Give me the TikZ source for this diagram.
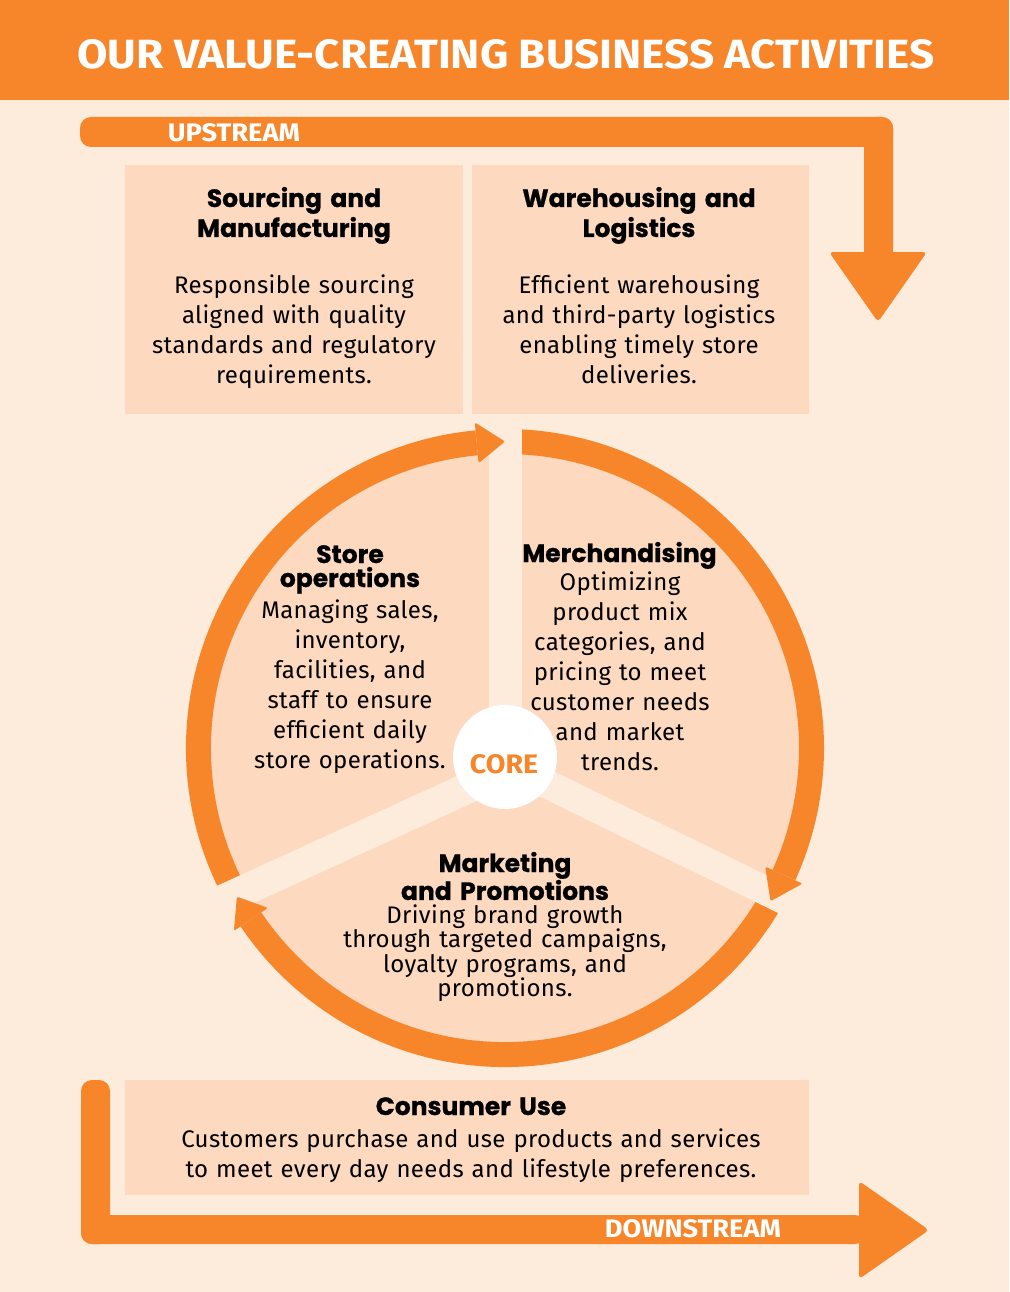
\documentclass[tikz,border=0pt]{standalone}
\usepackage{fontspec}
\setmainfont{Fira Sans}[LetterSpace=1.5]
\newfontfamily\headfont{Poppins}[BoldFeatures={FakeBold=0.8}]
\newfontfamily\bandfont{Fira Sans}
\usetikzlibrary{calc}
\definecolor{orng}{HTML}{F7862B}
\definecolor{bgc}{HTML}{FDEBDC}
\definecolor{boxc}{HTML}{FDD9BF}
\tikzset{
  bodytext/.style={text width=560pt, align=center, anchor=base, inner sep=0pt, text=black,
    font=\fontsize{24}{30}\selectfont},
  headtext/.style={text width=560pt, align=center, anchor=base, inner sep=0pt, text=black,
    font=\headfont\bfseries\fontsize{25}{30}\selectfont},
  panel/.style={fill=boxc},
  bandtext/.style={inner sep=0pt, text=white, font=\bandfont\bfseries},
  ringarc/.style={draw=orng, line width=25pt},
  gap/.style={draw=bgc},
}
\begin{document}
\begin{tikzpicture}[x=1pt,y=1pt]
\useasboundingbox (0,0) rectangle (1009,-1292);
% background and title bar
\fill[bgc] (0,0) rectangle (1009,-1292);
\fill[orng] (0,0) rectangle (1009,-100);
\node[bandtext] (title) at (506,-54.5) {\resizebox{857pt}{29pt}{OUR VALUE-CREATING BUSINESS ACTIVITIES}};

% upper panels
\fill[panel] (125,-165) rectangle (463,-414);
\fill[panel] (472,-165) rectangle (809,-414);
% consumer panel
\fill[panel] (125,-1080) rectangle (809,-1195);

% upstream arrow
\fill[orng, rounded corners=11] (80,-117) rectangle (893,-147);
\fill[orng, rounded corners=11] (864,-117) rectangle (893,-262);
\fill[orng, rounded corners=4] (829,-252) -- (927,-252) -- (878,-322) -- cycle;
\node[bandtext] (up) at (234,-133) {\resizebox{132pt}{18pt}{UPSTREAM}};

% downstream arrow
\fill[orng, rounded corners=11] (81,-1080) rectangle (110,-1244);
\fill[orng, rounded corners=11] (81,-1215) rectangle (866,-1244);
\fill[orng, rounded corners=4] (859,-1181) -- (929,-1230) -- (859,-1279) -- cycle;
\node[bandtext] (down) at (693,-1229) {\resizebox{176pt}{18pt}{DOWNSTREAM}};

% circle
\coordinate (C) at (505,-748);
\begin{scope}[shift={(C)}]
  \fill[boxc] (0,0) circle[radius=300];
  \draw[ringarc] (211:306.5) arc[start angle=211, end angle=95.3, radius=306.5];
  \draw[ringarc] (92:306.5) arc[start angle=92, end angle=-24.5, radius=306.5];
  \draw[ringarc] (-27:306.5) arc[start angle=-27, end angle=-146, radius=306.5];
\end{scope}
% separating gaps
\coordinate (g0) at (505,-775);
\coordinate (g1) at (505,-419);
\coordinate (g2) at (505,-771);
\coordinate (g3) at (198,-911.6);
\coordinate (g4) at (505,-763.6);
\coordinate (g5) at (812,-913.4);
\draw[gap, line width=33pt] (g0) -- (g1);
\draw[gap, line width=31pt] (g2) -- (g3);
\draw[gap, line width=29pt] (g4) -- (g5);
% arrow heads
\begin{scope}[shift={(C)}]
  \fill[orng, rounded corners=2] (95.3:286) -- (90:306.5) -- (95.3:327) -- cycle;
  \fill[orng, rounded corners=2] (-24.5:286) -- (-30:306.5) -- (-24.5:327) -- cycle;
  \fill[orng, rounded corners=2] (-146:286) -- (-151:306.5) -- (-146:327) -- cycle;
\end{scope}
% core
\fill[white] (505,-757) circle[radius=52];
\node[inner sep=0pt, text=orng, font=\bandfont\bfseries] (core) at (504,-764) {\resizebox{68pt}{19pt}{CORE}};

% panel texts
\node[headtext] (srcH) at (294,-207) {Sourcing and\\Manufacturing};
\node[bodytext] (srcB) at (294,-293) {Responsible sourcing\\aligned with quality\\standards and regulatory\\requirements.};
\node[headtext] (whH) at (639,-207) {Warehousing and\\Logistics};
\node[bodytext] (whB) at (639,-293) {Efficient warehousing\\and third-party logistics\\enabling timely store\\deliveries.};

% circle texts
\node[headtext, font=\headfont\bfseries\fontsize{25}{24}\selectfont] (stH) at (350,-563) {Store\\operations};
\node[bodytext] (stB) at (350,-618) {Managing sales,\\inventory,\\facilities, and\\staff to ensure\\efficient daily\\store operations.};
\node[headtext] (meH) at (619.5,-562) {Merchandising};
\node[bodytext] (meB) at (620,-590) {Optimizing\\product mix\\categories, and\\pricing to meet\\customer needs\\and market\\trends.};
\node[headtext, font=\headfont\bfseries\fontsize{25}{22}\selectfont] (mkH) at (505,-872) {Marketing\\and Promotions};
\node[bodytext, font=\fontsize{24}{24.5}\selectfont] (mkB) at (505,-923) {Driving brand growth\\through targeted campaigns,\\loyalty programs, and\\promotions.};

% consumer
\node[headtext] (cuH) at (471,-1115) {Consumer Use};
\node[bodytext, text width=760pt] (cuB) at (471,-1147) {Customers purchase and use products and services\\to meet every day needs and lifestyle preferences.};
\end{tikzpicture}
\end{document}
